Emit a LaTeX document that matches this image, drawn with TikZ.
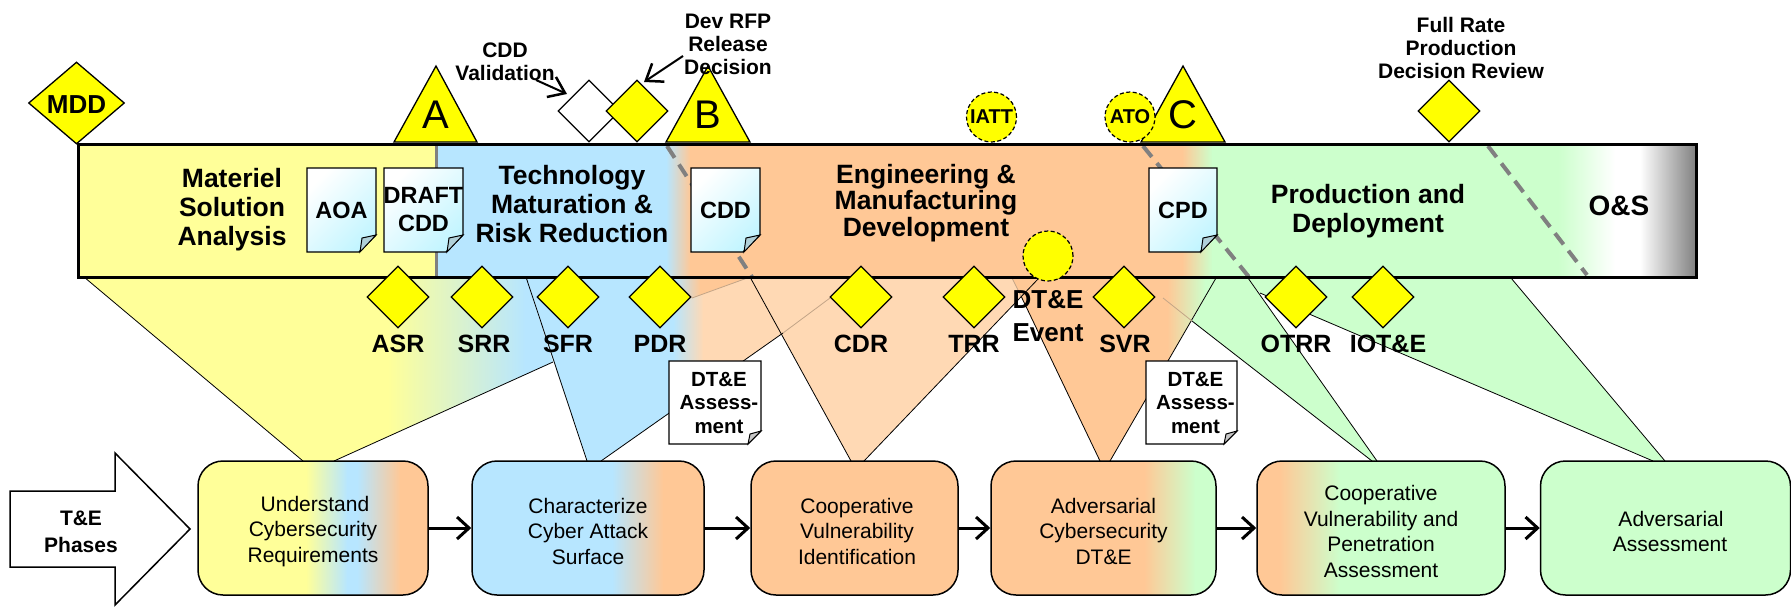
\documentclass[tikz,border=0pt]{standalone}
\usepackage{fontspec}
\setmainfont{Liberation Sans}
\usetikzlibrary{shapes.geometric,arrows.meta}
\definecolor{cyel}{RGB}{255,255,153}
\definecolor{cblu}{RGB}{183,230,255}
\definecolor{cpea}{RGB}{255,200,150}
\definecolor{cgrn}{RGB}{204,255,204}
\definecolor{clit}{RGB}{255,217,180}
\definecolor{cdoc}{RGB}{195,245,255}
\definecolor{cfold}{RGB}{176,208,216}
\definecolor{cfaint}{RGB}{195,165,135}
\definecolor{cdia}{RGB}{255,255,0}
\newcommand\bands[3]{\foreach \xa/\xb/\ca/\cb in {#3}{\shade[left color=\ca,right color=\cb] (\xa,#1) rectangle ({\xb+0.4},#2);}}
\newcommand\fs[2]{\fontsize{#1}{#2}\selectfont}
\newcommand\docsize{\fs{23.5}{28}}
\newcommand\rs{\rule{0pt}{22pt}}
\newcommand\docu[8]{%
  \shadedraw[docline,#6] (#2,#3)--(#4,#3)--(#4,#5-#7)--(#4-#7,#5)--(#2,#5)--cycle;
  \node[doctext] (#1) at ({(#2+#4)/2},{(#3+#5)/2}) {#8};}
\tikzset{
  docline/.style={draw=black,line width=1.3pt},
  cyandoc/.style={top color=white,bottom color=cdoc,shading angle=45},
  whitedoc/.style={top color=white,bottom color=white},
  doctext/.style={align=center,inner sep=0pt,font=\bfseries\docsize},
  foldcyan/.style={draw=black,line width=1pt,fill=cfold},
  foldgray/.style={draw=black,line width=1pt,fill=black!22},
  yel/.style={diamond,draw=black,line width=1.3pt,fill=cdia,inner sep=0pt,minimum width=62pt,minimum height=62pt},
  tri/.style={draw=black,line width=1.3pt,fill=cdia},
  circ/.style={circle,draw=black,line width=1.2pt,dash pattern=on 4pt off 2.5pt,fill=cdia,inner sep=0pt,minimum size=50pt,font=\bfseries\fs{20}{24}},
  lab/.style={align=center,inner sep=0pt,font=\bfseries\fs{25}{30}},
  barlab/.style={align=center,inner sep=0pt,font=\bfseries\fs{26.5}{29}},
  note/.style={align=center,inner sep=0pt,font=\bfseries\fs{21}{23}},
  phase/.style={rounded corners=25pt,draw=black,line width=1.5pt,inner sep=0pt,align=center,font=\fs{21}{25.5}},
  flow/.style={-{Straight Barb[length=12pt,width=22pt,line width=3pt]},line width=3pt},
  call/.style={-{Straight Barb[length=15pt,width=22pt,line width=2.5pt]},line width=2pt},
  edge/.style={draw=black,line width=0.8pt},
  faint/.style={draw=cfaint,line width=0.8pt},
  dash1/.style={draw=black!50,line width=4pt,dash pattern=on 14pt off 8pt},
}
\begin{document}
\begin{tikzpicture}[x=1pt,y=-1pt]
\useasboundingbox (0,0) rectangle (1791,606);
% ---- funnels
\begin{scope}\clip (84,277)--(303,461)--(334,461)--(553,362)--(526,277)--cycle;
\bands{270}{470}{78/388/cyel/cyel,388/525/cyel/cblu,525/560/cblu/cblu}\end{scope}
\begin{scope}\clip (526,277)--(587,461)--(601,461)--(783,333)--(750,277)--cycle;
\bands{270}{470}{520/673/cblu/cblu,673/703/cblu/clit,703/790/clit/clit}\end{scope}
\begin{scope}\clip (655,276)--(692,298)--(750,277)--cycle;
\bands{270}{300}{650/673/cblu/cblu,673/700/cblu/cpea,700/755/cpea/cpea}\end{scope}
\fill[cpea] (750,277)--(783,333)--(830,298)--(860,277)--cycle;
\fill[clit] (750,277)--(851,461)--(864,461)--(1039,278)--cycle;
\begin{scope}\clip (1012,278)--(1100,461)--(1110,461)--(1216,278)--cycle;
\bands{270}{470}{1005/1167/cpea/cpea,1167/1205/cpea/cgrn,1205/1220/cgrn/cgrn}\end{scope}
\fill[cgrn] (1216,278)--(1192,321)--(1372,461)--(1377,461)--(1248,278)--cycle;
\fill[cgrn] (1248,278)--(1260,293)--(1653,461)--(1665,461)--(1511,278)--cycle;
\draw[edge] (84,277)--(303,461);
\draw[edge] (334,461)--(553,362);
\draw[edge] (526,277)--(587,461);
\draw[edge] (601,461)--(783,333);
\draw[faint] (783,333)--(830,298);
\draw[faint] (692,298)--(750,277);
\draw[edge] (750,277)--(851,461);
\draw[edge] (864,461)--(1039,278);
\draw[faint] (1012,278)--(1021,296);
\draw[edge] (1021,296)--(1100,461);
\draw[edge] (1110,461)--(1216,278);
\draw[faint] (1163,298)--(1192,321);
\draw[edge] (1192,321)--(1372,461);
\draw[edge] (1377,461)--(1248,278);
\draw[edge] (1260,293)--(1653,461);
\draw[edge] (1665,461)--(1511,278);
% ---- bar
\bands{144}{277}{78/436/cyel/cyel,436/666/cblu/cblu,666/690/cblu/cpea,690/1182/cpea/cpea,1182/1212/cpea/cgrn,1212/1558/cgrn/cgrn,1558/1615/cgrn/white,1615/1640/white/white,1640/1696/white/black!50}
\draw[black!50,line width=3pt] (436,146)--(436,276);
\draw[dash1] (667,146)--(752,277);
\draw[dash1] (1143,146)--(1249,277);
\draw[dash1] (1488,146)--(1587,275);
\node[draw=black,line width=3pt,minimum width=1618pt,minimum height=133pt,inner sep=0pt] (bar) at (887,210.5) {};
% ---- bar labels
\node[barlab] (msa) at (232,210) {Materiel\\Solution\\Analysis};
\node[barlab] (tmrr) at (572,204) {Technology\\Maturation \&\\Risk Reduction};
\node[barlab,font=\bfseries\fs{26.5}{26.5}] (emd) at (926,203) {Engineering \&\\Manufacturing\\Development};
\node[barlab] (pd) at (1368,211) {Production and\\Deployment};
\node[barlab,font=\bfseries\fs{28}{30}] (os) at (1619,206) {O\&S};
% ---- documents
\docu{aoa}{307}{168}{376}{252}{cyandoc}{17}{AOA}
\draw[foldcyan] (376,235)--(362,238)--(360,252)--cycle;
\docu{draft}{384}{168}{463}{252}{cyandoc}{17}{DRAFT\\CDD}
\draw[foldcyan] (463,235)--(449,238)--(447,252)--cycle;
\docu{cdd}{691}{168}{760}{252}{cyandoc}{17}{CDD}
\draw[foldcyan] (760,235)--(746,238)--(744,252)--cycle;
\docu{cpd}{1149}{168}{1217}{252}{cyandoc}{17}{CPD}
\draw[foldcyan] (1217,235)--(1203,238)--(1201,252)--cycle;
\renewcommand\docsize{\fs{20.5}{23.5}}
\docu{ass1}{669}{361}{761}{444}{whitedoc}{13}{\hspace*{8pt}DT\&E\\\hspace*{8pt}Assess-\\\hspace*{8pt}ment}
\draw[foldgray] (761,431)--(750,434)--(748,444)--cycle;
\docu{ass2}{1146}{361}{1237}{444}{whitedoc}{13}{\hspace*{8pt}DT\&E\\\hspace*{8pt}Assess-\\\hspace*{8pt}ment}
\draw[foldgray] (1237,431)--(1226,434)--(1224,444)--cycle;
% ---- top milestones
\node[yel,minimum width=96pt,minimum height=82pt] (mdd) at (76.5,103) {};
\node[inner sep=0pt,font=\bfseries\fs{26}{30}] (mddt) at (76.5,105) {MDD};
\draw[tri] (394,142)--(436,66)--(477,142)--cycle;
\node[inner sep=0pt,font=\fs{40}{44}] (ga) at (436,115) {A};
\draw[tri] (666,142)--(708,66)--(750,142)--cycle;
\node[inner sep=0pt,font=\fs{40}{44}] (gb) at (708,115) {B};
\draw[tri] (1141,142)--(1183,66)--(1225,142)--cycle;
\node[inner sep=0pt,font=\fs{40}{44}] (gc) at (1183,115) {C};
\node[yel,fill=white] (cddv) at (589,111) {};
\node[yel] (devrfp) at (637,111) {};
\node[yel] (frp) at (1449,111) {};
\node[circ] (iatt) at (991.5,117) {IATT};
\node[circ] (ato) at (1130,117) {ATO};
\node[note] (cddvt) at (505,62) {CDD\\Validation};
\node[note] (devt) at (728,44) {Dev RFP\\Release\\Decision};
\node[note] (frpt) at (1461,48) {Full Rate\\Production\\Decision Review};
\coordinate (cddstart) at (536,80);
\coordinate (cddtip) at ([shift={(-22,-17)}]cddv.center);
\draw[call] (cddstart)--(cddtip);
\coordinate (devstart) at (683,56);
\coordinate (devtip) at ([shift={(7,-29)}]devrfp.center);
\draw[call] (devstart)--(devtip);
% ---- lower milestones
\foreach \n/\x/\lx/\t in {asr/398/398/ASR,srr/482/484/SRR,sfr/568/568/SFR,pdr/660/660/PDR,cdr/861/861/CDR,trr/974/974/TRR,svr/1124/1125/SVR,otrr/1296/1296/OTRR,iote/1383/1388/IOT\&E}{
  \node[yel] (\n) at (\x,297) {};
  \node[lab] (\n t) at (\lx,344) {\t};
}
\node[circ] (dte) at (1048,256) {};
\node[lab,font=\bfseries\fs{26}{33}] (dtet) at (1048,316) {DT\&E\\Event};
% ---- T&E phases arrow
\draw[line width=1.5pt,draw=black,fill=white] (10,491)--(115,491)--(115,453)--(190,529)--(115,605)--(115,567)--(10,567)--cycle;
\node[inner sep=0pt,align=center,font=\bfseries\fs{21}{27}] (tep) at (81,532) {T\&E\\Phases};
% ---- phase boxes
\begin{scope}\clip[rounded corners=25pt] (198,461) rectangle (428,595);
\bands{455}{600}{198/306/cyel/cyel,306/347/cyel/cblu,347/357/cblu/cblu,357/400/cblu/cpea,400/430/cpea/cpea}\end{scope}
\begin{scope}\clip[rounded corners=25pt] (472,461) rectangle (704,595);
\bands{455}{600}{472/612/cblu/cblu,612/663/cblu/cpea,663/706/cpea/cpea}\end{scope}
\begin{scope}\clip[rounded corners=25pt] (751,461) rectangle (958,595);
\bands{455}{600}{751/958/cpea/cpea}\end{scope}
\begin{scope}\clip[rounded corners=25pt] (991,461) rectangle (1216,595);
\bands{455}{600}{991/1144/cpea/cpea,1144/1195/cpea/cgrn,1195/1218/cgrn/cgrn}\end{scope}
\begin{scope}\clip[rounded corners=25pt] (1257,461) rectangle (1505,595);
\bands{455}{600}{1255/1280/cpea/cpea,1280/1340/cpea/cgrn,1340/1507/cgrn/cgrn}\end{scope}
\begin{scope}\clip[rounded corners=25pt] (1540,461) rectangle (1791,595);
\bands{455}{600}{1538/1793/cgrn/cgrn}\end{scope}
\node[phase,minimum width=230pt,minimum height=134pt] (p1) at (313,528) {\rs\hspace*{4pt}Understand\\Cybersecurity\\Requirements};
\node[phase,minimum width=232pt,minimum height=134pt] (p2) at (588,528) {\rs Characterize\\Cyber Attack\\Surface};
\node[phase,minimum width=207pt,minimum height=134pt] (p3) at (854.5,528) {\rs\hspace*{5pt}Cooperative\\\hspace*{5pt}Vulnerability\\\hspace*{5pt}Identification};
\node[phase,minimum width=225pt,minimum height=134pt] (p4) at (1103.5,528) {\rs Adversarial\\Cybersecurity\\DT\&E};
\node[phase,minimum width=248pt,minimum height=134pt] (p5) at (1381,528) {\rs Cooperative\\Vulnerability and\\Penetration\\Assessment};
\node[phase,minimum width=250pt,minimum height=134pt] (p6) at (1665.5,528) {\rs\hspace*{11pt}Adversarial\\\hspace*{9pt}Assessment};
\draw[flow] (p1)--(p2);
\draw[flow] (p2)--(p3);
\draw[flow] (p3)--(p4);
\draw[flow] (p4)--(p5);
\draw[flow] (p5)--(p6);
\end{tikzpicture}
\end{document}
